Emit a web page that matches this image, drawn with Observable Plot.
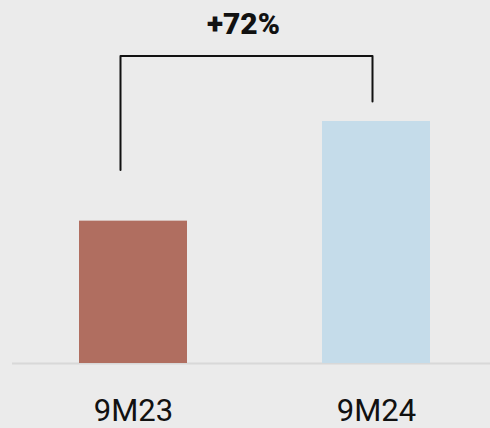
<!DOCTYPE html>
<html>
<head>
<meta charset="utf-8">
<script src="https://cdn.jsdelivr.net/npm/d3@7"></script>
<script src="https://cdn.jsdelivr.net/npm/@observablehq/plot@0.6"></script>
<style>
  html, body { margin: 0; padding: 0; background: #ebebeb; }
  #chart svg { display: block; }
</style>
</head>
<body>
<div id="chart"></div>
<script>
const periods = ["9M23", "9M24"];
const values = [100, 170];
const barColors = ["#b06e60", "#c5dcea"];
const changeLabel = "+72%";
// bracket heights (in value units)
const bracketTop = 216;
const bracketLeftBottom = 136;
const bracketRightBottom = 184;

const data = periods.map((p, i) => ({period: p, value: values[i], color: barColors[i]}));

const leftL = [
  {period: periods[0], v: bracketLeftBottom},
  {period: periods[0], v: bracketTop},
  {period: periods[1], v: bracketTop}
];
const rightL = [
  {period: periods[0], v: bracketTop},
  {period: periods[1], v: bracketTop},
  {period: periods[1], v: bracketRightBottom}
];

const chart = Plot.plot({
  width: 490,
  height: 428,
  marginLeft: 12,
  marginRight: 0,
  marginTop: 0,
  marginBottom: 65,
  style: {background: "#ebebeb", fontFamily: "Roboto, sans-serif", overflow: "visible"},
  x: {domain: periods, range: [79, 430], paddingInner: 0.5556, paddingOuter: 0, axis: null},
  y: {domain: [0, 255], axis: null},
  marks: [
    Plot.ruleY([0], {stroke: "#d8d8d8", strokeWidth: 2}),
    Plot.barY(data, {x: "period", y: "value", fill: "color"}),
    Plot.line(leftL, {x: "period", y: "v", stroke: "#111", strokeWidth: 2, dx: -13, curve: "linear"}),
    Plot.line(rightL, {x: "period", y: "v", stroke: "#111", strokeWidth: 2, dx: -4, curve: "linear"}),
    Plot.axisX({tickSize: 0, tickPadding: 35, fontSize: 31, fill: "#111", fontWeight: 400, label: null}),
    Plot.text([changeLabel], {frameAnchor: "top", dx: -8, dy: 12, lineAnchor: "top", fontSize: 30, fontWeight: 900, fill: "#111"})
  ]
});
document.getElementById("chart").appendChild(chart);
</script>
</body>
</html>
